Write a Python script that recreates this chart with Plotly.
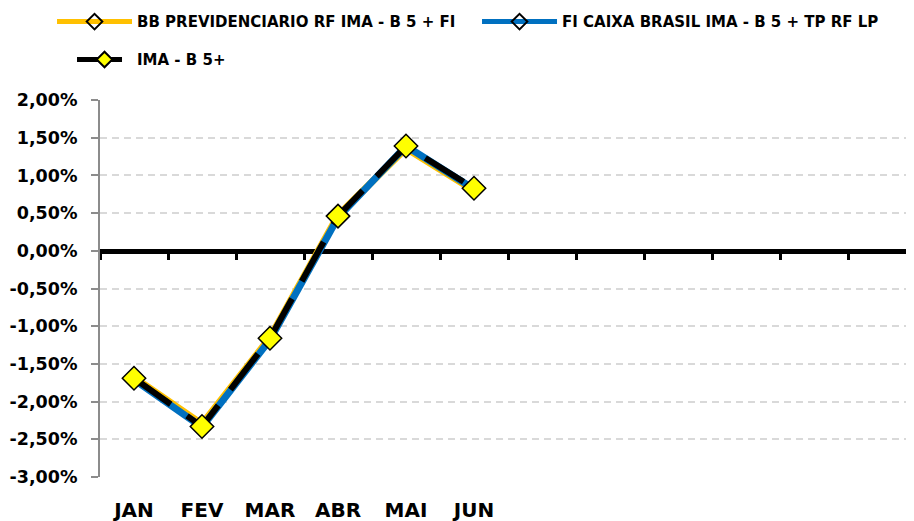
import plotly.graph_objects as go

# ======================================================================================================
# Dados
# ======================================================================================================

meses = ["JAN", "FEV", "MAR", "ABR", "MAI", "JUN"]
n_meses_eixo = 12

bb_previdenciario = [-1.68, -2.30, -1.15, 0.47, 1.36, 0.80]
fi_caixa = [-1.71, -2.34, -1.18, 0.44, 1.39, 0.82]
ima_b5 = [-1.69, -2.33, -1.16, 0.46, 1.39, 0.83]

nomes = ["BB PREVIDENCIARIO RF IMA - B 5 + FI",
         "FI CAIXA BRASIL IMA - B 5 + TP RF LP",
         "IMA - B 5+"]

ticks_y = [-3.0, -2.5, -2.0, -1.5, -1.0, -0.5, 0.0, 0.5, 1.0, 1.5, 2.0]
# rótulos no formato do Excel (vírgula decimal, hífen simples)
rotulos_y = [f"{v:.2f}%".replace(".", ",") for v in ticks_y]

FONTE = "DejaVu Sans"

# ======================================================================================================
# Plot
# ======================================================================================================

x = list(range(len(meses)))
fig = go.Figure()

fig.add_trace(go.Scatter(
    x=x, y=bb_previdenciario, name=nomes[0], mode="lines+markers",
    line=dict(color="#FFC000", width=7),
    marker=dict(symbol="diamond-open", size=10, color="black", line=dict(width=1.5)),
    legend="legend"))

fig.add_trace(go.Scatter(
    x=x, y=fi_caixa, name=nomes[1], mode="lines+markers",
    line=dict(color="#0070C0", width=7),
    marker=dict(symbol="diamond-open", size=10, color="black", line=dict(width=1.5)),
    legend="legend"))

fig.add_trace(go.Scatter(
    x=x, y=ima_b5, name=nomes[2], mode="lines+markers",
    line=dict(color="black", width=6, dash="45px,20px"),
    marker=dict(symbol="diamond", size=18, color="#FFFF00", line=dict(color="black", width=1.5)),
    legend="legend2"))

# traço vazio só para o eixo x2 (linha do zero com marcas) ser desenhado
fig.add_trace(go.Scatter(x=[None], y=[None], xaxis="x2", showlegend=False, hoverinfo="skip"))

limites = [i - 0.5 for i in range(n_meses_eixo + 1)]

fig.update_layout(
    width=914, height=521,
    margin=dict(l=92, r=6, t=92, b=52, autoexpand=False),
    paper_bgcolor="white", plot_bgcolor="white",
    font=dict(family=FONTE, color="black", weight="bold"),
    xaxis=dict(range=[-0.5, n_meses_eixo - 0.5], tickvals=x, ticktext=meses,
               showgrid=False, zeroline=False, showline=False, ticks="",
               tickfont=dict(size=20, family=FONTE, weight="bold"),
               ticklabelstandoff=19),
    xaxis2=dict(range=[-0.5, n_meses_eixo - 0.5], overlaying="x", anchor="free",
                position=0.6, tickvals=limites, showticklabels=False,
                ticks="outside", ticklen=6, tickwidth=3, tickcolor="black",
                showline=True, linewidth=5, linecolor="black",
                showgrid=False, zeroline=False, layer="below traces"),
    yaxis=dict(range=[-3, 2], tickvals=ticks_y, ticktext=rotulos_y,
               showgrid=True, gridcolor="#D9D9D9", gridwidth=1.5, griddash="7px,5px",
               zeroline=False, showline=True, linecolor="#8C8C8C", linewidth=2,
               ticks="outside", ticklen=7, tickwidth=2, tickcolor="#8C8C8C",
               tickfont=dict(size=17.5, family=FONTE, weight="bold"),
               ticklabelstandoff=10),
    legend=dict(orientation="h", x=-0.0588, xanchor="left", y=1.251, yanchor="top",
                itemwidth=75, entrywidth=335, itemsizing="constant",
                font=dict(size=15, family=FONTE, weight="bold"), bgcolor="rgba(0,0,0,0)"),
    legend2=dict(orientation="h", x=-0.0343, xanchor="left", y=1.1505, yanchor="top",
                 itemwidth=55, itemsizing="constant",
                 font=dict(size=15, family=FONTE, weight="bold"), bgcolor="rgba(0,0,0,0)"),
)

fig.write_html("out.html")
